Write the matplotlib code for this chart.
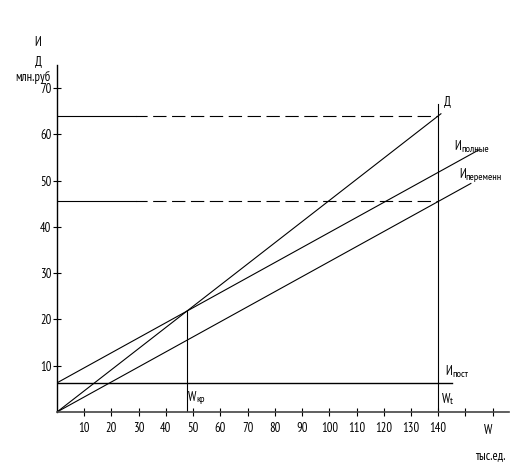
import matplotlib
matplotlib.use("Agg")
import matplotlib.pyplot as plt
from matplotlib.transforms import offset_copy
import numpy as np

plt.rcParams['font.family'] = ['PT Sans Narrow', 'Roboto Condensed', 'DejaVu Sans']

# chart data
x_ticks = [10, 20, 30, 40, 50, 60, 70, 80, 90, 100, 110, 120, 130, 140, 150, 160]
x_tick_labels = ['10', '20', '30', '40', '50', '60', '70', '80', '90', '100',
                 '110', '120', '130', '140', '', '']
y_ticks = [10, 20, 30, 40, 50, 60, 70]
w_t = 140           # планируемый выпуск, тыс.ед.
revenue_t = 64      # Д при w_t, млн.руб
var_cost_t = 45.5   # Ипеременн при w_t
fixed_cost = 6.3    # Ипост
line_ends = {'revenue': 141, 'total': 155, 'variable': 152, 'fixed': 145}
solid_part = 29     # до этой точки горизонтальные линии сплошные

rev_slope = revenue_t / w_t
var_slope = var_cost_t / w_t
w_kp = fixed_cost / (rev_slope - var_slope)

fig = plt.figure(figsize=(5.2, 4.76), dpi=100)
ax = fig.add_axes([57 / 520, 64 / 476, 452 / 520, 347 / 476])
ax.set_xlim(0, 166)
ax.set_ylim(0, 75)

lw = 0.8
k = 'black'

# Д
xr = np.array([0, line_ends['revenue']])
ax.plot(xr, rev_slope * xr, color=k, lw=lw)
# Иполные
xt = np.array([0, line_ends['total']])
ax.plot(xt, fixed_cost + var_slope * xt, color=k, lw=lw)
# Ипеременн
xv = np.array([0, line_ends['variable']])
ax.plot(xv, var_slope * xv, color=k, lw=lw)
# Ипост
ax.plot([0, line_ends['fixed']], [fixed_cost, fixed_cost], color=k, lw=1.0)

# horizontal guides: solid first, then dashed
for yv in [revenue_t, var_cost_t]:
    ax.plot([0, solid_part], [yv, yv], color=k, lw=lw)
    ax.plot([solid_part, w_t], [yv, yv], color=k, lw=lw, linestyle=(2, (12, 5)))

# verticals
ax.plot([w_kp, w_kp], [0, rev_slope * w_kp], color=k, lw=lw)
ax.plot([w_t, w_t], [0, 66.5], color=k, lw=lw)

for s in ['top', 'right']:
    ax.spines[s].set_visible(False)
ax.spines['left'].set_linewidth(1.0)
ax.spines['bottom'].set_linewidth(1.2)
ax.spines['bottom'].set_color('#444444')

ax.set_xticks(x_ticks)
ax.set_xticklabels(x_tick_labels)
ax.set_yticks(y_ticks)
ax.tick_params(direction='inout', length=6, width=0.8, labelsize=9)
ax.tick_params(axis='x', pad=4)
ax.tick_params(axis='y', pad=1)

fs = 9
fig.text(38 / 520, 1 - 42 / 476, 'И', fontsize=fs, ha='center', va='center')
fig.text(38 / 520, 1 - 62 / 476, 'Д', fontsize=fs, ha='center', va='center')
fig.text(33 / 520, 1 - 77 / 476, 'млн.руб', fontsize=fs, ha='center', va='center')
fig.text(488 / 520, 1 - 431 / 476, 'W', fontsize=fs, ha='center', va='center')
fig.text(490 / 520, 1 - 456 / 476, 'тыс.ед.', fontsize=fs, ha='center', va='center')

renderer = fig.canvas.get_renderer()


def sub_label(x, y, main, sub):
    t = ax.text(x, y, main, fontsize=fs, ha='left', va='center')
    bb = t.get_window_extent(renderer)
    xd, yd = ax.transData.inverted().transform((bb.x1, bb.y0 + bb.height / 2))
    tr = offset_copy(ax.transData, fig=fig, x=0, y=-2, units='points')
    ax.text(xd, yd, sub, fontsize=fs - 1.5, ha='left', va='center', transform=tr)


ax.text(141.9, 67, 'Д', fontsize=fs, ha='left', va='center')
sub_label(146.0, 57.3, 'И', 'полные')
sub_label(147.6, 51.3, 'И', 'переменн')
sub_label(142.6, 8.8, 'И', 'пост')
sub_label(48.1, 3.2, 'W', 'кр')
sub_label(141.2, 2.8, 'W', 't')

fig.savefig('out.png', dpi=100)
